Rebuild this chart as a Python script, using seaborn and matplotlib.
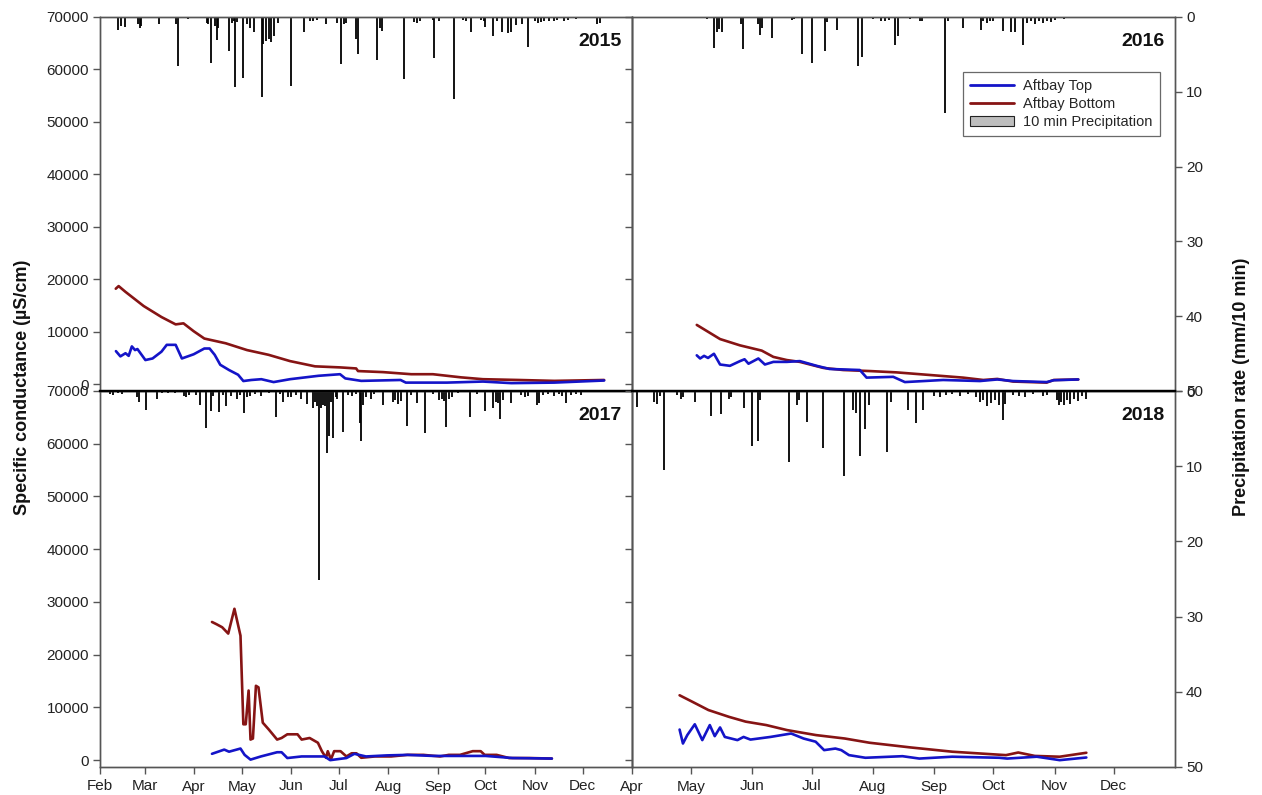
import numpy as np
import pandas as pd
import matplotlib
matplotlib.use("Agg")
import matplotlib.pyplot as plt
import seaborn as sns
from matplotlib.patches import Patch
from matplotlib.lines import Line2D

sns.set_theme(style="white")
plt.rcParams["font.family"] = ["Liberation Sans", "DejaVu Sans"]

# ---------------- data (day of year) ----------------
month_days = [31, 59, 90, 120, 151, 181, 212, 243, 273, 304, 334]
month_labels = ["Feb", "Mar", "Apr", "May", "Jun", "Jul", "Aug", "Sep", "Oct", "Nov", "Dec"]
years = ["2015", "2016", "2017", "2018"]

# 2015
top_2015_day = [41, 43.8, 47, 49, 51, 53, 54.5, 59.5, 64, 69.6, 72.9, 78.5, 82.4, 89.8, 96.5, 99.8, 103,
                106.5, 112, 117.7, 121, 126, 132.3, 140, 150.3, 168.2, 181.7, 185, 195, 219.7, 223,
                248.8, 271.4, 289.2, 316.2, 347.5]
top_2015_val = [6300, 5300, 5900, 5400, 7200, 6500, 6700, 4600, 4900, 6200, 7500, 7500, 4900, 5700, 6800,
                6800, 5600, 3700, 2700, 1800, 600, 800, 950, 400, 950, 1600, 1900, 1100, 630, 800, 300,
                300, 500, 200, 300, 700]
bot_2015_day = [40.9, 42.7, 47, 58.4, 69.6, 78.5, 83.4, 89.8, 96.5, 109.9, 123.3, 136.8, 150.3, 166,
                181.7, 191.8, 193, 208.7, 226.4, 240, 257.7, 271.4, 293.8, 316.2, 347.5]
bot_2015_val = [18200, 18700, 17600, 14900, 12800, 11400, 11600, 10100, 8700, 7800, 6500, 5600, 4400,
                3400, 3200, 3000, 2500, 2300, 1900, 1900, 1300, 950, 800, 630, 800]

# 2016
top_2016_day = [122.8, 124.5, 126.5, 128.5, 131.5, 134.6, 139.6, 144.7, 147, 149, 154, 157.3, 161.6, 168.4,
                175, 183.5, 190, 205.4, 208.8, 222.3, 228.2, 247.6, 266.2, 275, 283, 300, 303.6, 316]
top_2016_val = [5500, 4900, 5400, 5000, 5800, 3750, 3500, 4400, 4750, 3900, 4900, 3750, 4250, 4250,
                4400, 3500, 2900, 2700, 1250, 1400, 400, 800, 600, 900, 600, 400, 750, 900]
bot_2016_day = [122.8, 134.6, 144.7, 155.7, 161.6, 168.4, 175, 186.9, 197, 210.5, 224, 240.9, 257.7,
                267.9, 275, 283, 300, 303.6, 316]
bot_2016_val = [11300, 8600, 7400, 6400, 5200, 4600, 4250, 3100, 2700, 2500, 2250, 1750, 1250, 800,
                1000, 500, 300, 800, 900]

# 2017
top_2017_day = [101.3, 109, 112, 119.2, 121.8, 125.5, 132, 142.2, 145, 148.6, 157.6, 167.8, 172, 175.5,
                185.7, 190.7, 198, 211, 224, 240, 260, 273, 290, 314.7]
top_2017_val = [1200, 2000, 1600, 2200, 1000, 100, 700, 1500, 1500, 400, 700, 700, 700, 0,
                400, 1200, 700, 900, 1000, 800, 800, 800, 400, 300]
bot_2017_day = [101.3, 104, 107.7, 111.5, 115.4, 119.2, 121, 122.5, 124.3, 125.5, 127, 128.9, 130.5,
                133.2, 137, 142.2, 145, 148.6, 155, 157.6, 162.6, 167.8, 170.3, 172.9, 174, 176, 178,
                182, 185.7, 189, 192, 195, 203.6, 213.8, 224, 234, 244.5, 250, 257, 265, 270, 272.5,
                280, 287.8, 300.6, 314.7]
bot_2017_val = [26200, 25800, 25200, 24000, 28700, 23600, 6800, 6800, 13200, 3900, 4100, 14100, 13800,
                7100, 5800, 3900, 4200, 4900, 4900, 3900, 4200, 3300, 1700, 450, 1700, 150, 1700,
                1700, 700, 1300, 1300, 450, 700, 700, 1000, 1000, 700, 1000, 1000, 1700, 1700, 1000,
                1000, 400, 400, 300]

# 2018
top_2018_day = [114.1, 115.8, 118, 121.8, 125.6, 129.4, 131.9, 134.6, 137, 143.4, 146.5, 150, 160.1,
                170.6, 176.9, 183, 187.3, 193, 196, 199.9, 208.2, 227, 235.5, 252.2, 276, 280,
                295, 306.6, 320.1]
top_2018_val = [5800, 3150, 4750, 6800, 3800, 6650, 4550, 6200, 4400, 3800, 4400, 3900, 4400,
                5050, 4100, 3500, 1900, 2200, 1900, 950, 450, 750, 300, 650, 450, 300,
                650, 0, 500]
bot_2018_day = [114.1, 120.4, 128.7, 139.2, 147.6, 158, 168.5, 183.2, 197.8, 210.3, 231.3, 252.2,
                266.8, 279.4, 285.6, 294, 306.6, 320.1]
bot_2018_val = [12300, 11100, 9500, 8200, 7300, 6650, 5700, 4750, 4100, 3300, 2400, 1600,
                1250, 950, 1450, 800, 650, 1400]

# precipitation (mm / 10 min)
rain_2015_day = [42, 44, 47, 55, 56, 57, 68, 79, 80, 86, 98, 99, 101, 103, 104.6, 105, 112, 114, 115,
                 115.5, 117, 120.6, 123, 125, 127.7, 132.9, 133.5, 135, 137, 138.5, 140, 142.5, 151,
                 159, 163, 165, 167, 173, 180, 182.5, 184, 185.5, 192, 193, 204.7, 207, 208, 221.8,
                 228, 230, 232, 240, 241, 244, 253, 259, 261, 264, 270, 272, 273, 278, 280, 283.5,
                 287, 289, 292, 296, 299.5, 304, 306, 308, 310, 313, 316, 318, 322, 325, 330, 343, 345]
rain_2015_mm = [1.7, 1.2, 1.3, 1.0, 1.5, 1.2, 1.0, 1.0, 6.6, 0.3, 0.8, 1.0, 6.1, 1.2, 3.1, 1.5, 4.5,
                0.8, 0.6, 9.4, 0.7, 8.1, 0.9, 1.5, 2.0, 10.7, 3.6, 3.2, 2.9, 3.4, 2.5, 0.8, 9.2, 2.0,
                0.5, 0.6, 0.4, 1.0, 0.8, 6.3, 1.0, 0.8, 3.0, 5.0, 5.7, 1.5, 1.9, 8.3, 0.7, 0.8, 0.6,
                0.4, 5.5, 0.5, 10.9, 0.4, 0.5, 2.0, 0.4, 0.5, 1.4, 2.6, 0.6, 2.0, 2.2, 2.0, 1.1, 1.0,
                4.0, 0.6, 0.8, 0.7, 0.5, 0.5, 0.6, 0.4, 0.5, 0.4, 0.3, 1.0, 0.8]
rain_2016_day = [127, 128, 131.7, 133, 134, 135.7, 145, 146.4, 154, 155, 156, 161, 171, 172, 176, 181,
                 187.7, 189, 193.6, 204.6, 206.6, 212, 216, 218, 220, 223, 224.5, 231, 236, 237,
                 248.5, 250, 257.6, 267, 268, 270, 271.5, 273, 278, 282, 284, 288, 290, 292, 294,
                 296, 298, 300, 302, 304, 309]
rain_2016_mm = [0.2, 0.3, 4.1, 2.0, 1.6, 2.0, 1.0, 4.3, 1.0, 2.4, 1.5, 2.8, 0.4, 0.3, 4.9, 6.1, 4.5,
                0.7, 1.8, 6.5, 5.3, 0.3, 0.5, 0.6, 0.4, 3.7, 2.6, 0.3, 0.6, 0.5, 12.9, 0.6, 1.5,
                1.7, 0.6, 0.8, 0.5, 0.6, 1.9, 2.0, 2.0, 3.7, 0.8, 0.5, 0.9, 0.6, 0.8, 0.5, 0.7,
                0.4, 0.3]
rain_2017_day = [37, 39, 42, 45, 54, 55.5, 60, 66.5, 70, 74, 78, 84, 85, 87, 91, 93.8, 97.5, 100.7,
                 102, 106, 108, 110, 113, 117, 119, 121.4, 123, 125, 128, 132, 137, 141.5, 144, 146,
                 149, 151, 154, 157, 160.7, 164.5, 166, 167.5, 168.7, 170, 171, 172.5, 173.7, 175,
                 176, 177.5, 179, 180, 183.7, 187, 189, 192, 194, 195, 196, 198, 201, 203, 208.8,
                 215, 216.5, 218, 220, 224, 226, 229.8, 235, 240, 244, 245.5, 247, 248, 250, 252,
                 256, 263, 268, 273, 278, 279.5, 281, 282, 284, 289, 295, 298, 300, 305.5, 306.8,
                 309, 312, 316, 319, 321, 323.5, 327, 330, 333]
rain_2017_mm = [0.4, 0.5, 0.3, 0.4, 0.8, 1.4, 2.5, 1.1, 0.3, 0.3, 0.2, 0.6, 0.8, 0.5, 0.5, 1.8, 4.9,
                2.7, 0.6, 2.8, 0.5, 2.0, 0.6, 1.0, 0.5, 2.9, 0.8, 0.6, 0.4, 0.6, 0.3, 3.4, 0.4, 1.4,
                0.8, 0.8, 0.5, 1.0, 1.7, 2.2, 1.5, 2.0, 25.1, 2.2, 1.8, 2.0, 8.3, 6.0, 1.5, 6.3,
                0.8, 1.0, 5.4, 0.5, 0.6, 0.4, 4.3, 6.7, 1.8, 0.8, 1.0, 0.4, 1.8, 1.5, 1.2, 1.7,
                1.3, 4.7, 0.5, 1.6, 5.6, 0.4, 1.2, 1.0, 1.3, 4.8, 1.0, 0.8, 0.3, 3.5, 0.4, 2.7,
                2.2, 1.4, 1.6, 3.7, 1.2, 1.6, 0.5, 0.8, 0.6, 1.8, 1.6, 0.5, 0.4, 0.6, 0.4, 0.6,
                1.6, 0.5, 0.4, 0.5]
rain_2018_day = [92.5, 101, 102.7, 104, 106, 113, 115, 116, 122, 129.8, 135, 139, 140, 146.5, 151, 154,
                 155, 169.5, 173.8, 174.5, 178.5, 186.7, 197.3, 202, 203.5, 205.7, 208.2, 210, 219,
                 221, 230, 234, 237.5, 243, 246, 249, 252, 256, 260, 264, 266, 268, 270, 272, 274,
                 276, 278, 279, 283, 286, 289, 293, 298, 300, 305, 306, 307.5, 309, 310.5, 312, 314,
                 316, 318, 320]
rain_2018_mm = [2.1, 1.5, 1.7, 0.6, 10.5, 0.5, 1.0, 0.8, 1.5, 3.3, 3.1, 1.0, 0.8, 2.2, 7.3, 6.7, 1.2,
                9.4, 1.8, 1.2, 4.1, 7.6, 11.3, 2.5, 2.9, 8.6, 5.1, 1.8, 8.1, 1.5, 2.5, 4.2, 2.5, 0.6,
                0.8, 0.5, 0.4, 0.6, 0.4, 0.8, 1.5, 1.2, 2.0, 1.6, 1.2, 1.8, 3.9, 1.7, 0.5, 0.6, 0.8,
                0.4, 0.6, 0.5, 1.2, 1.8, 1.5, 1.9, 1.2, 1.7, 1.0, 1.3, 0.7, 1.0]

series_names = ["Aftbay Top", "Aftbay Bottom"]
palette = {"Aftbay Top": "#1414C8", "Aftbay Bottom": "#861414"}

data = {
    "2015": (top_2015_day, top_2015_val, bot_2015_day, bot_2015_val, rain_2015_day, rain_2015_mm),
    "2016": (top_2016_day, top_2016_val, bot_2016_day, bot_2016_val, rain_2016_day, rain_2016_mm),
    "2017": (top_2017_day, top_2017_val, bot_2017_day, bot_2017_val, rain_2017_day, rain_2017_mm),
    "2018": (top_2018_day, top_2018_val, bot_2018_day, bot_2018_val, rain_2018_day, rain_2018_mm),
}

# ---------------- layout ----------------
W, H = 1262, 795
fig = plt.figure(figsize=(W / 100, H / 100), dpi=100)

def rect(x0, y0, x1, y1):
    return [x0 / W, 1 - y1 / H, (x1 - x0) / W, (y1 - y0) / H]

panels = {
    "2015": dict(rect=rect(100, 17, 632, 391), left=True, bottom=False, xlim=(31, 365)),
    "2016": dict(rect=rect(632, 17, 1175, 391), left=False, bottom=False, xlim=(90, 365)),
    "2017": dict(rect=rect(100, 391, 632, 767), left=True, bottom=True, xlim=(31, 365)),
    "2018": dict(rect=rect(632, 391, 1175, 767), left=False, bottom=True, xlim=(90, 365)),
}

spine_col = "#555555"
tick_fs = 11

for yr in years:
    p = panels[yr]
    td, tv, bd, bv, rd, rm = data[yr]
    ax = fig.add_axes(p["rect"])
    tw = ax.twinx()
    ax.set_zorder(tw.get_zorder() + 1)
    ax.patch.set_visible(False)

    # precipitation bars (hanging from top, inverted axis)
    tw.vlines(rd, 0, rm, color="black", linewidth=1.3)
    tw.set_ylim(50, 0)

    df = pd.concat([
        pd.DataFrame({"day": td, "value": tv, "series": "Aftbay Top"}),
        pd.DataFrame({"day": bd, "value": bv, "series": "Aftbay Bottom"}),
    ])
    sns.lineplot(data=df, x="day", y="value", hue="series", palette=palette,
                 hue_order=["Aftbay Bottom", "Aftbay Top"], estimator=None, sort=False,
                 linewidth=1.9, legend=False, ax=ax)

    ax.set_xlim(*p["xlim"])
    ax.set_ylim(-1300, 70000)
    ax.set_xlabel("")
    ax.set_ylabel("")
    ax.set_yticks(np.arange(0, 70001, 10000))

    if p["bottom"]:
        ticks = [d for d in month_days if d >= p["xlim"][0]]
        labels = [l for d, l in zip(month_days, month_labels) if d >= p["xlim"][0]]
        ax.set_xticks(ticks)
        ax.set_xticklabels(labels, fontsize=tick_fs, color="#222222")
        ax.tick_params(axis="x", direction="out", length=5, width=1, color=spine_col,
                       bottom=True, pad=4)
    else:
        ax.set_xticks([])

    ax.tick_params(axis="y", direction="out", length=5, width=1, color=spine_col, left=True,
                   labelleft=p["left"], labelsize=tick_fs, labelcolor="#222222", pad=3)

    if p["left"]:
        tw.set_yticks([])
    else:
        tw.set_yticks(np.arange(0, 51, 10))
        tw.tick_params(axis="y", direction="out", length=5, width=1, color=spine_col, right=True,
                       labelsize=tick_fs, labelcolor="#222222", pad=3)

    for a in (ax, tw):
        for s in a.spines.values():
            s.set_color(spine_col)
            s.set_linewidth(1.0)
    if p["bottom"]:
        for a in (ax, tw):
            a.spines["top"].set_color("black")
            a.spines["top"].set_linewidth(1.6)

    ax.text(0.98, 0.935, yr, transform=ax.transAxes, ha="right", va="center",
            fontsize=14, fontweight="bold", color="#111111")

    if yr == "2016":
        handles = [Line2D([0], [0], color=palette["Aftbay Top"], lw=2),
                   Line2D([0], [0], color=palette["Aftbay Bottom"], lw=2),
                   Patch(facecolor="#BEBEBE", edgecolor="#222222", linewidth=0.8)]
        leg = ax.legend(handles, ["Aftbay Top", "Aftbay Bottom", "10 min Precipitation"],
                        loc="upper right", bbox_to_anchor=(0.985, 0.872), fontsize=10.5,
                        frameon=True, fancybox=False, handlelength=3.0, handletextpad=0.6,
                        labelspacing=0.25, borderpad=0.5)
        leg.get_frame().set_edgecolor("#444444")
        leg.get_frame().set_linewidth(0.9)

fig.text(0.018, 0.513, "Specific conductance (µS/cm)", rotation=90, ha="center", va="center",
         fontsize=13, fontweight="bold", color="#111111")
fig.text(0.984, 0.513, "Precipitation rate (mm/10 min)", rotation=90, ha="center", va="center",
         fontsize=13, fontweight="bold", color="#111111")

fig.savefig("out.png", dpi=100)
